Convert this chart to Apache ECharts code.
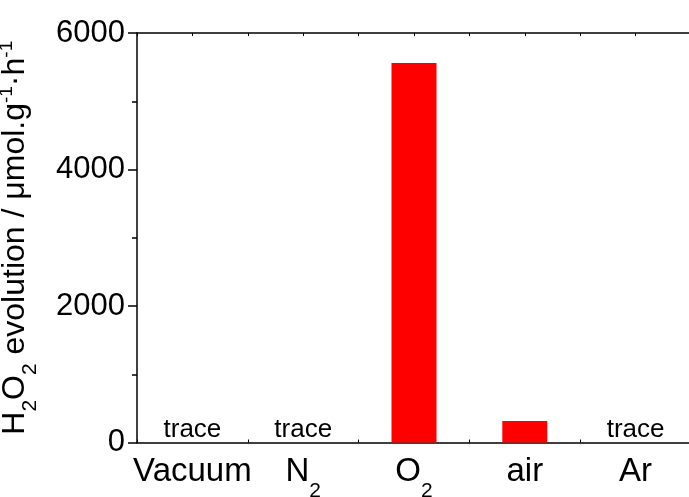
<!DOCTYPE html>
<html><head><meta charset="utf-8">
<script src="https://cdn.jsdelivr.net/npm/echarts@6/dist/echarts.min.js"></script>
<style>html,body{margin:0;padding:0;background:#fff}#c{width:689px;height:497px}</style>
</head><body><div id="c"></div>
<script>
const categories = ['Vacuum', 'N2', 'O2', 'air', 'Ar'];
const values = [0, 0, 5560, 315, 0];
const notes = ['trace', 'trace', '', '', 'trace'];
const yTicks = [0, 2000, 4000, 6000];

const FONT = "'Liberation Sans', Arial, sans-serif";
const chart = echarts.init(document.getElementById('c'));
const subFmt = v => {
  const m = /^(\D+)(\d)$/.exec(v);
  return m ? '{m|' + m[1] + '}{s|' + m[2] + '}' : '{m|' + v + '}';
};
chart.setOption({
  animation: false,
  backgroundColor: '#fff',
  grid: { left: 137, right: -2, top: 33, bottom: 54.5, containLabel: false, outerBoundsMode: 'none' },
  xAxis: [
    {
      type: 'category', data: categories, position: 'bottom',
      axisLine: { lineStyle: { color: '#000', width: 1.5 } },
      axisTick: { alignWithLabel: true, length: 8, inside: false, lineStyle: { color: '#000', width: 1.5 } },
      axisLabel: {
        margin: 11, color: '#000', formatter: subFmt,
        rich: {
          m: { fontFamily: FONT, fontSize: 33, color: '#000', lineHeight: 35, verticalAlign: 'bottom' },
          s: { fontFamily: FONT, fontSize: 21, color: '#000', lineHeight: 35, verticalAlign: 'bottom', padding: [0, 0, -13, 0] }
        }
      },
      splitLine: { show: false }
    },
    {
      type: 'value', min: 0, max: 5, interval: 1, position: 'bottom',
      axisLine: { show: false }, axisLabel: { show: false }, splitLine: { show: false },
      axisTick: { show: true, inside: true, length: 3, lineStyle: { color: '#000', width: 1 } }
    },
    {
      type: 'value', min: 0, max: 5, interval: 0.5, position: 'top',
      axisLine: { show: true, lineStyle: { color: '#000', width: 1.5 } },
      axisLabel: { show: false }, splitLine: { show: false },
      axisTick: { show: true, inside: true, length: 3, lineStyle: { color: '#000', width: 1 } }
    }
  ],
  yAxis: [{
    type: 'value', min: 0, max: 6000, interval: 2000,
    axisLine: { show: true, lineStyle: { color: '#000', width: 1.5 } },
    axisTick: { show: true, length: 9, lineStyle: { color: '#000', width: 1.5 } },
    minorTick: { show: true, splitNumber: 2, length: 5, lineStyle: { color: '#000', width: 1.5 } },
    splitLine: { show: false },
    axisLabel: { margin: 12, color: '#000', fontFamily: FONT, fontSize: 31,
      formatter: v => yTicks.includes(v) ? String(v) : '' },
    name: '{m|H}{s|2}{m|O}{s|2}{m| evolution / μmol.g}{p|-1}{m|·h}{p|-1}',
    nameLocation: 'middle', nameRotate: 90, nameGap: 106,
    nameTextStyle: {
      rich: {
        m: { fontFamily: FONT, fontSize: 32, color: '#000', lineHeight: 36, verticalAlign: 'bottom' },
        s: { fontFamily: FONT, fontSize: 21, color: '#000', lineHeight: 36, verticalAlign: 'bottom', padding: [0, 0, -10, 0] },
        p: { fontFamily: FONT, fontSize: 19, color: '#000', lineHeight: 36, verticalAlign: 'top', padding: [2, 0, 0, 0] }
      }
    }
  }],
  series: [{
    type: 'bar', xAxisIndex: 0, yAxisIndex: 0, data: values, barWidth: 45,
    itemStyle: { color: '#ff0000' },
    label: {
      show: true, position: 'top', distance: 0, color: '#000',
      fontFamily: FONT, fontSize: 26,
      formatter: p => notes[p.dataIndex]
    }
  }]
});
</script></body></html>
